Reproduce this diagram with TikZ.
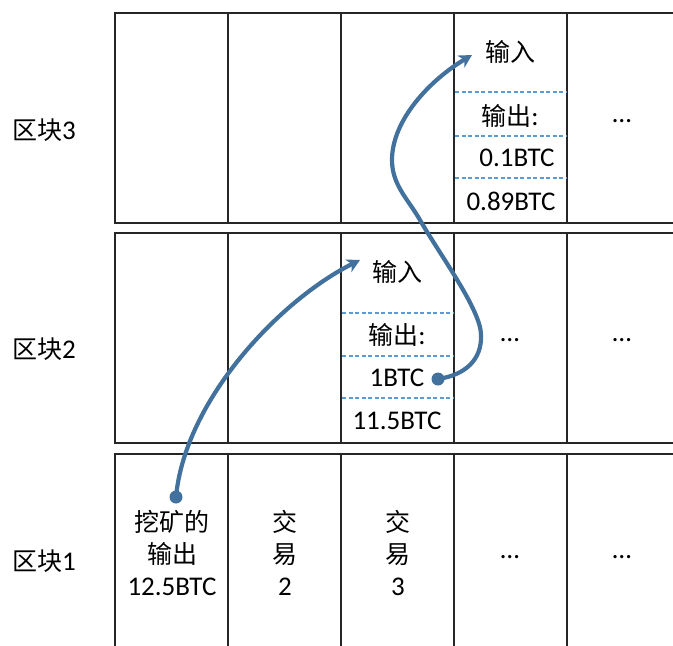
\documentclass[tikz,border=0pt]{standalone}
\usepackage{fontspec}
\setmainfont{Carlito}[Scale=1.08]
\newfontfamily\cjk{Noto Sans CJK SC}
\usetikzlibrary{arrows.meta}
\definecolor{flow}{HTML}{41719C}
\definecolor{sepline}{HTML}{5B9BD5}
\definecolor{frame}{HTML}{262626}
\begin{document}
\begin{tikzpicture}[x=1pt,y=-1pt,
  blockframe/.style={draw=frame, line width=1.6pt},
  cellsep/.style={draw=sepline, line width=1.3pt, dash pattern=on 4pt off 2.5pt},
  txt/.style={font=\fontsize{25}{32}\selectfont, inner sep=0pt, anchor=center, align=center},
  flowline/.style={draw=flow, line width=4.2pt, line cap=round,
    -{Stealth[length=13pt,width=14pt,inset=4pt]}},
  dotmark/.style={circle, fill=flow, inner sep=0pt, minimum size=13pt}]
\useasboundingbox (0,0) rectangle (673,646);
\clip (0,0) rectangle (673,646);

% three block rows, each split into columns
\foreach \top/\bot in {13/223, 233/443, 454/660} {
  \draw[blockframe] (115,\top) rectangle (690,\bot);
  \foreach \x in {228,341,454,567}
    \draw[blockframe] (\x,\top) -- (\x,\bot);
}

% dashed separators inside the transaction cells
\foreach \y in {92,136,178}
  \draw[cellsep] (455,\y) -- (566,\y);
\foreach \y in {313,356,398}
  \draw[cellsep] (342,\y) -- (453,\y);

% row labels
\node[txt] (lab3) at (44,130) {{\cjk 区块}3};
\node[txt] (lab2) at (44,349) {{\cjk 区块}2};
\node[txt] (lab1) at (44,561) {{\cjk 区块}1};

% block 3
\node[txt] (in3)   at (510,52)  {{\cjk 输入}};
\node[txt] (out3)  at (510,116) {{\cjk 输出}:};
\node[txt] (v3a)   at (517,158) {0.1BTC};
\node[txt] (v3b)   at (511,201) {0.89BTC};
\node[txt] (d3e)   at (622,121) {…};

% block 2
\node[txt] (in2)   at (397,272) {{\cjk 输入}};
\node[txt] (out2)  at (397,335) {{\cjk 输出}:};
\node[txt] (v2a)   at (397,378) {1BTC};
\node[txt] (v2b)   at (397,421) {11.5BTC};
\node[txt] (d2d)   at (510,340) {…};
\node[txt] (d2e)   at (622,340) {…};

% block 1
\node[txt] (mine)  at (172,553) {{\cjk 挖矿的}\\{\cjk 输出}\\12.5BTC};
\node[txt] (tx2)   at (285,553) {{\cjk 交}\\{\cjk 易}\\2};
\node[txt] (tx3)   at (398,553) {{\cjk 交}\\{\cjk 易}\\3};
\node[txt] (d1d)   at (510,557) {…};
\node[txt] (d1e)   at (622,557) {…};

% spending links
\coordinate (src1) at (176,497);
\coordinate (tip2) at (360,260);
\coordinate (src2) at (438,379);
\coordinate (bendA) at (481,335);
\coordinate (bendB) at (420,220);
\coordinate (bendC) at (392,160);
\coordinate (tip3) at (472,55);

\draw[flowline] (src1) .. controls (185,400) and (280,300) .. (tip2);
\draw[flowline] (src2) .. controls (465,375) and (482,360) .. (bendA)
  .. controls (481,310) and (440,255) .. (bendB)
  .. controls (408,199) and (392,185) .. (bendC)
  .. controls (392,120) and (430,80) .. (tip3);
\node[dotmark] (dot1) at (src1) {};
\node[dotmark] (dot2) at (src2) {};
\end{tikzpicture}
\end{document}
